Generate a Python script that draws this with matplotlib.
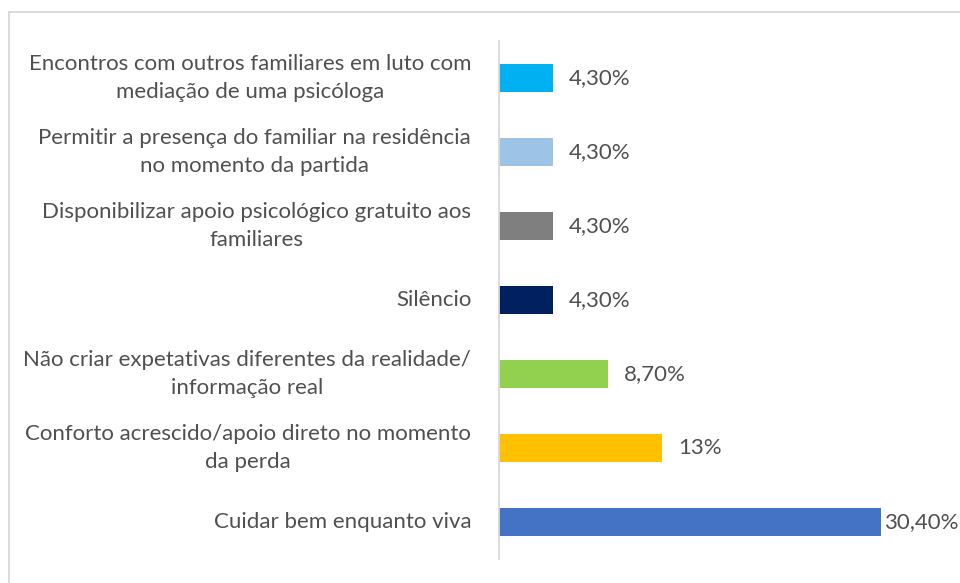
import matplotlib
matplotlib.use("Agg")
import matplotlib.pyplot as plt
from matplotlib.patches import Rectangle

categories = [
    "Encontros com outros familiares em luto com\nmediação de uma psicóloga",
    "Permitir a presença do familiar na residência\nno momento da partida",
    "Disponibilizar apoio psicológico gratuito aos\nfamiliares",
    "Silêncio",
    "Não criar expetativas diferentes da realidade/\ninformação real",
    "Conforto acrescido/apoio direto no momento\nda perda",
    "Cuidar bem enquanto viva",
]
values = [4.3, 4.3, 4.3, 4.3, 8.7, 13.0, 30.4]
value_labels = ["4,30%", "4,30%", "4,30%", "4,30%", "8,70%", "13%", "30,40%"]
colors = ["#00B0F0", "#9DC3E6", "#7F7F7F", "#002060", "#92D050", "#FFC000", "#4472C4"]

W, H = 960, 583
plt.rcParams['font.family'] = ['Lato', 'DejaVu Sans']
fig = plt.figure(figsize=(W / 100, H / 100), dpi=100)
text_color = "#505050"
fs = 16

# chart border (partially outside the image)
fig.add_artist(Rectangle((8.5 / W, -0.05), 1.1, (H - 11.5) / H + 0.05,
                         transform=fig.transFigure, fill=False,
                         edgecolor="#D9D9D9", linewidth=1.3))

ax_left, ax_right = 499, 960
ax_top, ax_bottom = 41, 559
ax = fig.add_axes([ax_left / W, (H - ax_bottom) / H,
                   (ax_right - ax_left) / W, (ax_bottom - ax_top) / H])

n = len(categories)
ypos = list(range(n))
ax.barh(ypos, values, height=0.365, color=colors)
ax.set_ylim(n - 0.5, -0.5)
px_per_unit = 12.55
ax.set_xlim(0, (ax_right - ax_left) / px_per_unit)

for s in ["top", "right", "bottom"]:
    ax.spines[s].set_visible(False)
ax.spines["left"].set_color("#D9D9D9")
ax.spines["left"].set_linewidth(1.3)
ax.set_xticks([])
ax.set_yticks(ypos)
ax.set_yticklabels(categories, fontsize=fs, color=text_color,
                   multialignment="center", linespacing=1.55)
for lbl in ax.get_yticklabels():
    lbl.set_verticalalignment("center")
ax.tick_params(axis="y", length=0, pad=20)

fig.canvas.draw()
renderer = fig.canvas.get_renderer()
for y, v, lab in zip(ypos, values, value_labels):
    t = ax.annotate(lab, (v, y), xytext=(11.5, 0), textcoords="offset points",
                    va="center", ha="left", fontsize=fs, color=text_color,
                    annotation_clip=False)
    bb = t.get_window_extent(renderer)
    if bb.x1 > W:
        # shift label left so it stays inside the image (as the original does)
        t.remove()
        x_edge = ax.transData.inverted().transform((W - 1, 0))[0]
        ax.text(x_edge, y, lab, va="center", ha="right", fontsize=fs,
                color=text_color, clip_on=False)

fig.savefig("out.png", dpi=100)
